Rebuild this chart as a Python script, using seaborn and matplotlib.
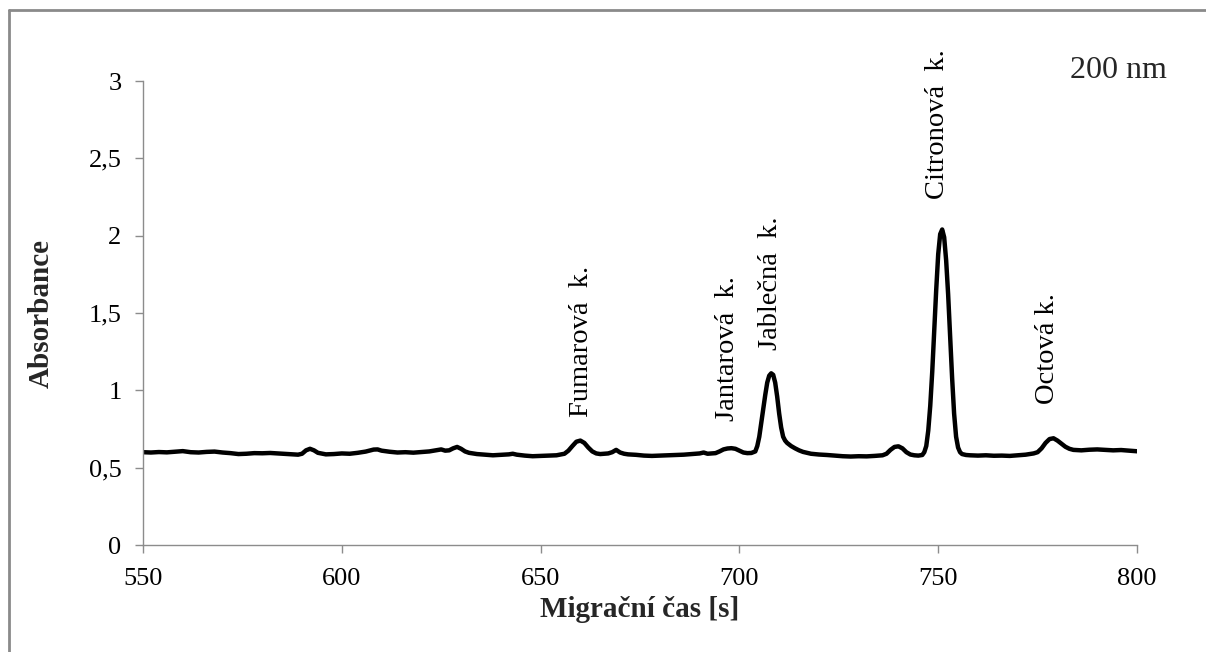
import matplotlib
matplotlib.use("Agg")
import matplotlib.pyplot as plt
from matplotlib.lines import Line2D
import seaborn as sns
import pandas as pd

# ---- data ----
time_s = [550, 552, 554, 556, 558, 560, 562, 564, 566, 568, 570, 572, 574, 576, 578, 580,
          582, 584, 586, 588, 589, 590, 591, 592, 593, 594, 596, 598, 600, 602, 604, 606,
          608, 609, 610, 612, 614, 616, 618, 620, 622, 624, 625, 626, 627, 628, 629, 630,
          631, 632, 634, 636, 638, 640, 642, 643, 644, 646, 648, 650, 652, 654, 656, 657,
          658, 659, 660, 661, 662, 663, 664, 665, 666, 667, 668, 669, 670, 671, 672, 674,
          676, 678, 680, 682, 684, 686, 688, 690, 691, 692, 694, 695, 696, 697, 698, 699,
          700, 701, 702, 703, 704, 704.5, 705, 705.5, 706, 706.5, 707, 707.5, 708, 708.5,
          709, 709.5, 710, 710.5, 711, 711.5, 712, 713, 714, 715, 716, 717, 718, 720, 722,
          724, 726, 728, 730, 732, 734, 736, 737, 738, 739, 740, 741, 742, 743, 744, 745,
          746, 746.5, 747, 747.5, 748, 748.5, 749, 749.5, 750, 750.5, 751, 751.5, 752,
          752.5, 753, 753.5, 754, 754.5, 755, 755.5, 756, 757, 758, 760, 762, 764, 766,
          768, 770, 772, 774, 775, 776, 777, 778, 779, 780, 781, 782, 783, 784, 786, 788,
          790, 792, 794, 796, 798, 800]
absorbance = [0.600, 0.598, 0.601, 0.599, 0.603, 0.607, 0.600, 0.598, 0.602, 0.604, 0.598,
              0.594, 0.588, 0.590, 0.594, 0.593, 0.595, 0.592, 0.589, 0.586, 0.584, 0.590,
              0.612, 0.622, 0.612, 0.596, 0.586, 0.588, 0.592, 0.590, 0.596, 0.604, 0.617,
              0.618, 0.610, 0.603, 0.598, 0.600, 0.597, 0.601, 0.605, 0.614, 0.618, 0.610,
              0.612, 0.625, 0.634, 0.622, 0.605, 0.596, 0.588, 0.584, 0.580, 0.583, 0.586,
              0.590, 0.584, 0.578, 0.574, 0.576, 0.578, 0.580, 0.590, 0.610, 0.640, 0.668,
              0.675, 0.660, 0.630, 0.605, 0.592, 0.588, 0.590, 0.592, 0.600, 0.615, 0.598,
              0.590, 0.586, 0.583, 0.578, 0.576, 0.578, 0.580, 0.582, 0.584, 0.588, 0.592,
              0.598, 0.590, 0.594, 0.605, 0.618, 0.624, 0.626, 0.622, 0.610, 0.598, 0.594,
              0.595, 0.605, 0.640, 0.700, 0.790, 0.880, 0.970, 1.050, 1.095, 1.110, 1.100,
              1.050, 0.960, 0.850, 0.760, 0.700, 0.675, 0.660, 0.640, 0.625, 0.612, 0.602,
              0.596, 0.590, 0.585, 0.582, 0.578, 0.574, 0.572, 0.574, 0.573, 0.576, 0.580,
              0.590, 0.615, 0.634, 0.638, 0.625, 0.600, 0.585, 0.580, 0.578, 0.582, 0.600,
              0.640, 0.740, 0.900, 1.120, 1.380, 1.650, 1.880, 2.010, 2.040, 1.990, 1.840,
              1.620, 1.350, 1.080, 0.850, 0.700, 0.630, 0.600, 0.588, 0.582, 0.580, 0.578,
              0.580, 0.577, 0.578, 0.576, 0.580, 0.584, 0.592, 0.600, 0.625, 0.660, 0.685,
              0.690, 0.675, 0.655, 0.635, 0.622, 0.615, 0.612, 0.616, 0.618, 0.615, 0.612,
              0.614, 0.610, 0.606]

peak_labels = ["Fumarová  k.", "Jantarová  k.", "Jablečná  k.", "Citronová  k.", "Octová k."]
label_time = [660.2, 696.9, 707.7, 749.7, 777.4]
label_abs = [0.83, 0.80, 1.26, 2.24, 0.91]

x_ticks = [550, 600, 650, 700, 750, 800]
y_ticks = [0, 0.5, 1, 1.5, 2, 2.5, 3]
y_tick_labels = ["0", "0,5", "1", "1,5", "2", "2,5", "3"]

# ---- styling ----
sns.set_theme(style="white")
plt.rcParams["font.family"] = ["Liberation Serif", "DejaVu Serif"]

W, H = 1206, 652
fig = plt.figure(figsize=(W / 100, H / 100), dpi=100)
ax = fig.add_axes([143 / W, (H - 545) / H, (1137 - 143) / W, (545 - 81) / H])

df = pd.DataFrame({"t": time_s, "A": absorbance})
sns.lineplot(data=df, x="t", y="A", ax=ax, color="black", linewidth=3.2)

ax.set_xlim(550, 800)
ax.set_ylim(0, 3)
ax.set_xticks(x_ticks)
ax.set_xticklabels([str(v) for v in x_ticks])
ax.set_yticks(y_ticks)
ax.set_yticklabels(y_tick_labels)
ax.set_xlabel("")
ax.set_ylabel("")

gray = "#8c8c8c"
for side in ["top", "right"]:
    ax.spines[side].set_visible(False)
for side in ["left", "bottom"]:
    ax.spines[side].set_color(gray)
    ax.spines[side].set_linewidth(1.0)
ax.tick_params(axis="both", which="major", direction="out", length=5.5, width=1.0,
               color=gray, labelsize=19, labelcolor="black", pad=10,
               left=True, bottom=True)
ax.tick_params(axis="x", pad=11)

for lab, tx, ay in zip(peak_labels, label_time, label_abs):
    ax.text(tx, ay, lab, rotation=90, ha="center", va="bottom", fontsize=20.5,
            color="black")

fig.text(640 / W, (H - 617) / H, "Migrační čas [s]", ha="center", va="baseline",
         fontsize=21, fontweight="bold")
fig.text(41 / W, (H - 313) / H, "Absorbance", ha="center", va="center", rotation=90,
         fontsize=21, fontweight="bold")
fig.text(1167 / W, (H - 78) / H, "200 nm", ha="right", va="baseline", fontsize=23)

# outer frame (chart area border, cropped at right/bottom)
fx = 8.5 / W
fy = (H - 10) / H
fig.add_artist(Line2D([fx, fx], [0, fy], transform=fig.transFigure, color="#8a8a8a", lw=2))
fig.add_artist(Line2D([fx, 1.0], [fy, fy], transform=fig.transFigure, color="#8a8a8a", lw=2))

fig.savefig("out.png", dpi=100)
